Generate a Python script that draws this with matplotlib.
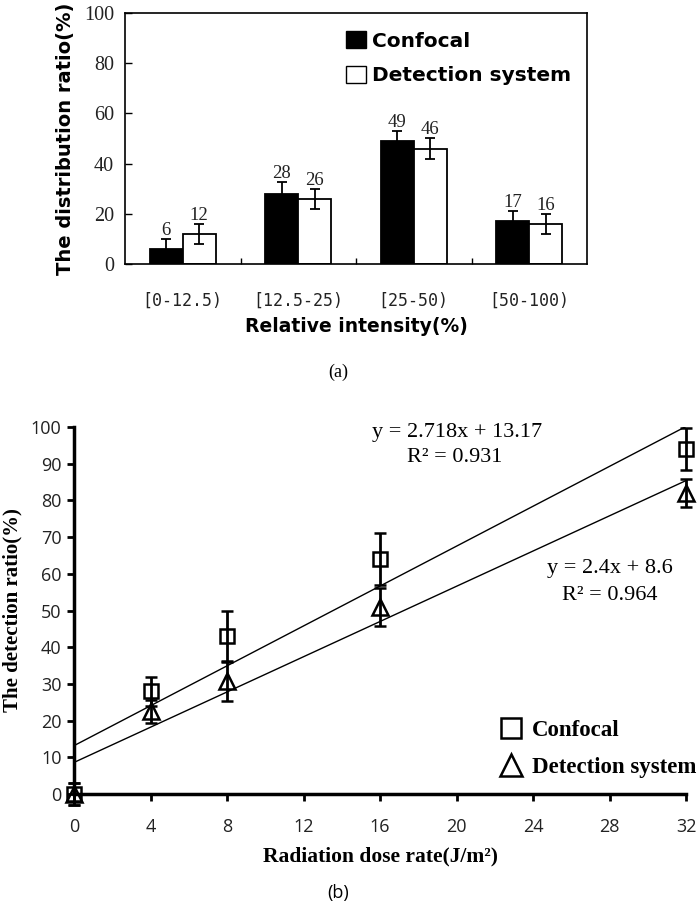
import numpy as np
import matplotlib.pyplot as plt
from matplotlib.lines import Line2D
from matplotlib.patches import Patch

# panel (a) data
groups = ['[0-12.5)', '[12.5-25)', '[25-50)', '[50-100)']
confocal_ratio = [6, 28, 49, 17]
confocal_err = [4, 4.5, 4, 4]
detect_ratio = [12, 26, 46, 16]
detect_err = [4, 4, 4, 4]

# panel (b) data
dose = [0, 4, 8, 16, 32]
confocal_det = [0, 28, 43, 64, 94]
confocal_det_err = [3, 4, 7, 7, 5.7]
system_det = [0, 22.5, 30.8, 51, 82]
system_det_err = [3, 3.2, 5.5, 5.2, 3.8]
fit_confocal = (2.718, 13.17)
fit_system = (2.4, 8.6)

W, H = 700, 906
fig = plt.figure(figsize=(W / 100, H / 100), dpi=100)

serif = 'Liberation Serif'
sans_b = 'DejaVu Sans'

# ---------------- (a) ----------------
ax1 = fig.add_axes([125 / W, 1 - 264 / H, 462 / W, 251 / H])
idx = np.arange(len(groups))
width = 0.286
ax1.bar(idx - width / 2, confocal_ratio, width, color='black', edgecolor='black',
        linewidth=1.3, zorder=2)
ax1.bar(idx + width / 2, detect_ratio, width, color='white', edgecolor='black',
        linewidth=1.3, zorder=2)
ax1.errorbar(idx - width / 2, confocal_ratio, yerr=confocal_err, fmt='none', ecolor='black',
             elinewidth=1.3, capsize=3.5, capthick=1.3, zorder=3)
ax1.errorbar(idx + width / 2, detect_ratio, yerr=detect_err, fmt='none', ecolor='black',
             elinewidth=1.3, capsize=3.5, capthick=1.3, zorder=3)
for xs, vals, errs in [(idx - width / 2, confocal_ratio, confocal_err),
                       (idx + width / 2, detect_ratio, detect_err)]:
    for x, v, e in zip(xs, vals, errs):
        ax1.annotate(str(v), (x, v + e), xytext=(0, 0), textcoords='offset points',
                     ha='center', va='bottom', fontsize=13.5, family=serif, color='#222222')

ax1.set_xlim(-0.5, 3.5)
ax1.set_ylim(0, 100)
ax1.set_yticks(range(0, 101, 20))
ax1.set_xticks(idx)
ax1.set_xticklabels(groups, family='DejaVu Sans Mono', fontsize=12, color='#222222')
ax1.set_xticks([0.5, 1.5, 2.5], minor=True)
ax1.tick_params(axis='x', which='major', length=0, pad=20)
ax1.tick_params(axis='x', which='minor', direction='in', length=4, width=1)
ax1.tick_params(axis='y', direction='in', length=5, width=1, labelsize=14.5, pad=8,
                labelcolor='#222222')
for lab in ax1.get_yticklabels():
    lab.set_family(serif)
for s in ax1.spines.values():
    s.set_linewidth(1.2)
ax1.set_ylabel('The distribution ratio(%)', fontsize=14, fontweight='bold', family=sans_b,
               labelpad=6)
ax1.set_xlabel('Relative intensity(%)', fontsize=13.5, fontweight='bold', family=sans_b,
               labelpad=5)
ax1.legend(handles=[Patch(facecolor='black', edgecolor='black'),
                    Patch(facecolor='white', edgecolor='black')],
           labels=['Confocal', 'Detection system'], loc='upper left',
           bbox_to_anchor=(0.44, 1.0), frameon=False, handlelength=0.95, handleheight=0.95,
           handletextpad=0.3, labelspacing=0.75,
           prop={'family': sans_b, 'weight': 'bold', 'size': 14.5})
fig.text(338 / W, 1 - 372 / H, '(a)', ha='center', va='center', fontsize=13, family=serif)

# ---------------- (b) ----------------
ax2 = fig.add_axes([74 / W, 1 - 794 / H, 612 / W, 367 / H])
xfit = np.array([0, 32])
ax2.plot(xfit, fit_confocal[0] * xfit + fit_confocal[1], color='black', lw=1, zorder=2)
ax2.plot(xfit, fit_system[0] * xfit + fit_system[1], color='black', lw=1, zorder=2)
ax2.errorbar(dose, confocal_det, yerr=confocal_det_err, fmt='s', ms=10, mfc='none',
             mec='black', mew=1.8, ecolor='black', elinewidth=2, capsize=4, capthick=2,
             clip_on=False, zorder=3)
ax2.errorbar(dose, system_det, yerr=system_det_err, fmt='^', ms=11, mfc='none',
             mec='black', mew=1.8, ecolor='black', elinewidth=2, capsize=4, capthick=2,
             clip_on=False, zorder=3)
ax2.set_xlim(0, 32)
ax2.set_ylim(0, 100)
ax2.set_xticks(range(0, 33, 4))
ax2.set_yticks(range(0, 101, 10))
ax2.spines['top'].set_visible(False)
ax2.spines['right'].set_visible(False)
for s in ['left', 'bottom']:
    ax2.spines[s].set_linewidth(2.5)
ax2.tick_params(direction='out', length=5, width=2, labelsize=13, labelcolor='#222222')
ax2.tick_params(axis='x', pad=12)
ax2.tick_params(axis='y', pad=4)
for lab in ax2.get_xticklabels() + ax2.get_yticklabels():
    lab.set_family('Open Sans')
ax2.set_ylabel('The detection ratio(%)', fontsize=15, fontweight='bold', family=serif,
               labelpad=6)
ax2.set_xlabel('Radiation dose rate(J/m²)', fontsize=15.5, fontweight='bold',
               family=serif, labelpad=8)
fig.text(457 / W, 1 - 432 / H, 'y = 2.718x + 13.17', ha='center', va='center',
         fontsize=16, family=serif)
fig.text(455 / W, 1 - 458 / H, 'R² = 0.931', ha='center', va='center', fontsize=16,
         family=serif)
fig.text(610 / W, 1 - 568 / H, 'y = 2.4x + 8.6', ha='center', va='center', fontsize=16,
         family=serif)
fig.text(610 / W, 1 - 595 / H, 'R² = 0.964', ha='center', va='center', fontsize=16,
         family=serif)
ax2.legend(handles=[Line2D([], [], marker='s', ls='none', ms=14, mfc='none', mec='black', mew=1.8),
                    Line2D([], [], marker='^', ls='none', ms=16, mfc='none', mec='black', mew=1.8)],
           labels=['Confocal', 'Detection system'], loc='upper left',
           bbox_to_anchor=(500 / W, 1 - 720 / H), bbox_transform=fig.transFigure,
           frameon=False, handlelength=1.0, handletextpad=0.4, labelspacing=0.7,
           borderaxespad=0, borderpad=0,
           prop={'family': serif, 'weight': 'bold', 'size': 16.5})
fig.text(338 / W, 1 - 893 / H, '(b)', ha='center', va='center', fontsize=13,
         family='Open Sans')

fig.savefig('out.png', dpi=100)
